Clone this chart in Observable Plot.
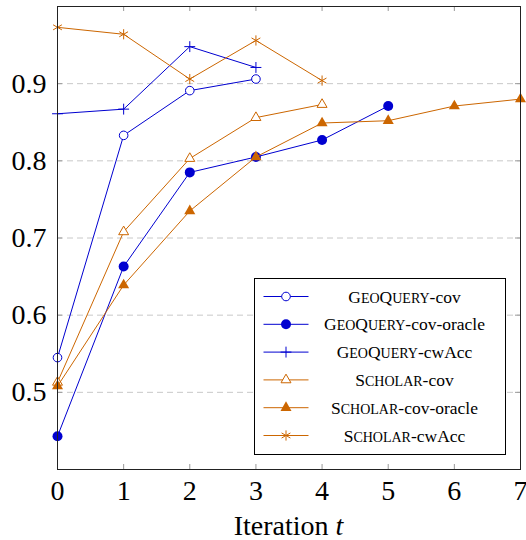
<!DOCTYPE html>
<html>
<head>
<meta charset="utf-8">
<script src="https://cdn.jsdelivr.net/npm/d3@7"></script>
<script src="https://cdn.jsdelivr.net/npm/@observablehq/plot@0.6"></script>
<style>
  html, body { margin: 0; padding: 0; background: white; }
  #chart { position: relative; width: 526px; height: 540px; }
</style>
</head>
<body>
<div id="chart"></div>
<script>
const iterations = [0, 1, 2, 3, 4, 5, 6, 7];
const yTicks = [0.5, 0.6, 0.7, 0.8, 0.9];
const seriesPrefix = ["GeoQuery", "GeoQuery", "GeoQuery", "Scholar", "Scholar", "Scholar"];
const seriesSuffix = ["-cov", "-cov-oracle", "-cwAcc", "-cov", "-cov-oracle", "-cwAcc"];
const geoCov = [0.545, 0.833, 0.891, 0.906];
const geoCovOracle = [0.443, 0.663, 0.785, 0.805, 0.827, 0.871];
const geoCwAcc = [0.861, 0.867, 0.948, 0.921];
const scholarCov = [0.513, 0.708, 0.803, 0.856, 0.873];
const scholarCovOracle = [0.508, 0.639, 0.735, 0.805, 0.849, 0.852, 0.871, 0.880];
const scholarCwAcc = [0.973, 0.964, 0.906, 0.956, 0.904];

const BLUE = "#0000d0";
const ORANGE = "#cc6600";
const SERIF = "Liberation Serif";

const styles = [
  {values: geoCov, color: BLUE, symbol: "circle", fill: "white", r: 4.3, sw: 1},
  {values: geoCovOracle, color: BLUE, symbol: "circle", fill: BLUE, r: 5, sw: 1},
  {values: geoCwAcc, color: BLUE, symbol: "plus", fill: "none", r: 3.6, sw: 1},
  {values: scholarCov, color: ORANGE, symbol: "triangle", fill: "white", r: 3.7, sw: 1},
  {values: scholarCovOracle, color: ORANGE, symbol: "triangle", fill: ORANGE, r: 4.1, sw: 1},
  {values: scholarCwAcc, color: ORANGE, symbol: "asterisk", fill: "none", r: 4.8, sw: 1}
];

const W = 526, H = 540, mL = 57, mR = 6, mT = 6, mB = 71;
const fw = W - mL - mR, fh = H - mT - mB;

const seriesMarks = [];
styles.forEach((s, k) => {
  const data = s.values.map((v, i) => ({t: iterations[i], v}));
  seriesMarks.push(Plot.line(data, {x: "t", y: "v", stroke: s.color, strokeWidth: 1}));
  seriesMarks.push(Plot.dot(data, {x: "t", y: "v", symbol: () => s.symbol, r: s.r, fill: s.fill, stroke: s.fill === s.color ? "none" : s.color, strokeWidth: s.sw}));
});

const chart = Plot.plot({
  width: W, height: H,
  marginLeft: mL, marginRight: mR, marginTop: mT, marginBottom: mB,
  style: {fontFamily: SERIF, fontSize: "28px", background: "white", color: "black"},
  x: {domain: [0, 7]},
  y: {domain: [0.4, 1.0]},
  symbol: {type: "identity"},
  marks: [
    Plot.ruleY(yTicks, {y: d => d, stroke: "#c8c8c8", strokeWidth: 1, strokeDasharray: "6,4"}),
    Plot.ruleX(iterations, {x: d => d, insetTop: fh - 5, stroke: "#999"}),
    Plot.ruleX(iterations, {x: d => d, insetBottom: fh - 5, stroke: "#999"}),
    Plot.ruleY(yTicks, {y: d => d, insetLeft: fw - 5, stroke: "#999"}),
    Plot.ruleY(yTicks, {y: d => d, insetRight: fw - 5, stroke: "#999"}),
    Plot.axisX(iterations, {tickSize: 0, tickPadding: 11, label: null, fontSize: 28, fontFamily: SERIF}),
    Plot.axisY(yTicks, {tickSize: 0, tickPadding: 11, label: null, fontSize: 28, fontFamily: SERIF, tickFormat: d3.format(".1f")}),
    ...seriesMarks,
    Plot.frame({stroke: "#222", strokeWidth: 1})
  ]
});

document.getElementById("chart").appendChild(chart);

const svg = d3.select(chart);
// x-axis label
const lab = svg.append("text")
  .attr("x", mL + fw / 2).attr("y", 535)
  .attr("text-anchor", "middle")
  .attr("font-family", SERIF)
  .attr("font-size", 28)
  .attr("fill", "black");
lab.append("tspan").text("Iteration ");
lab.append("tspan").attr("font-style", "italic").text("t");

// legend
const symMap = {circle: d3.symbolCircle, plus: d3.symbolPlus, triangle: d3.symbolTriangle, asterisk: d3.symbolAsterisk};
const lg = svg.append("g").attr("transform", "translate(254.5,278.5)");
lg.append("rect").attr("width", 251).attr("height", 176).attr("fill", "white").attr("stroke", "black").attr("stroke-width", 1);
const FS = 17.5, SC = 14;
styles.forEach((s, k) => {
  const yy = 18 + k * 27.8;
  lg.append("line").attr("x1", 9).attr("x2", 54).attr("y1", yy).attr("y2", yy).attr("stroke", s.color).attr("stroke-width", 1);
  lg.append("path")
    .attr("transform", `translate(31.5,${yy})`)
    .attr("d", d3.symbol().type(symMap[s.symbol]).size(s.r * s.r * Math.PI)())
    .attr("fill", s.fill)
    .attr("stroke", s.fill === s.color ? "none" : s.color)
    .attr("stroke-width", s.sw);
  const t = lg.append("text")
    .attr("x", 150).attr("y", yy + 6)
    .attr("text-anchor", "middle")
    .attr("font-family", SERIF)
    .attr("font-size", FS)
    .attr("fill", "black");
  // manual small caps for the dataset name
  const runs = seriesPrefix[k].match(/[A-Z]+|[a-z]+/g);
  runs.forEach(r => {
    const lower = r === r.toLowerCase();
    t.append("tspan").attr("font-size", lower ? SC : FS).text(r.toUpperCase());
  });
  t.append("tspan").attr("font-size", FS).text(seriesSuffix[k]);
});
</script>
</body>
</html>
